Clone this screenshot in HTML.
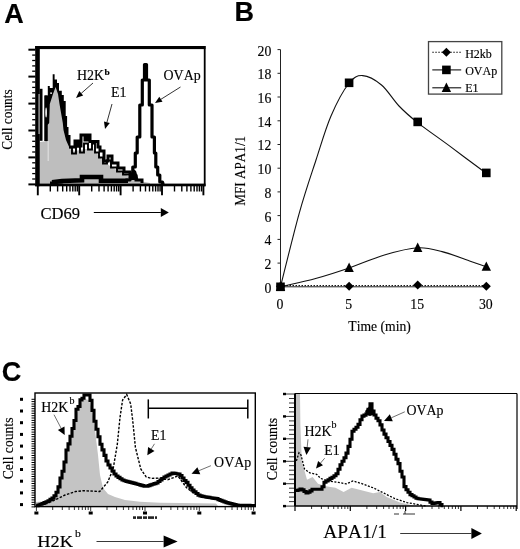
<!DOCTYPE html>
<html><head><meta charset="utf-8"><title>Figure</title>
<style>
html,body{margin:0;padding:0;background:#fff;}
svg{display:block;}
text{fill:#000;font-kerning:none;stroke:#000;stroke-width:0.15px;}
</style></head>
<body>
<svg width="520" height="549" viewBox="0 0 520 549">
<rect x="0" y="0" width="520" height="549" fill="#fff"/>
<text transform="translate(4.2,22.8) scale(1.0,1)" font-family='"Liberation Sans", sans-serif' font-size="27" font-weight="bold" text-anchor="start" >A</text>
<text transform="translate(234.5,21.2) scale(1.0,1)" font-family='"Liberation Sans", sans-serif' font-size="27" font-weight="bold" text-anchor="start" >B</text>
<text transform="translate(1.7,381) scale(1.0,1)" font-family='"Liberation Sans", sans-serif' font-size="27" font-weight="bold" text-anchor="start" >C</text>
<path d="M44.5,141.0 L44.5,95.5 L47.8,95.5 L47.8,86.0 L49.8,86.0 L49.8,88.0 L52.7,88.0 L52.7,74.3 L54.6,74.3 L54.6,79.6 L57.0,79.6 L57.0,83.0 L59.0,83.0 L59.0,90.7 L61.8,90.7 L61.8,95.0 L63.8,95.0 L63.8,101.0 L65.7,101.0 L65.7,116.0 L67.1,116.0 L67.1,127.0 L68.5,127.0 L68.5,135.0 L70.5,135.0 L70.5,149.0 L66.0,149.0 Z" fill="#000" stroke="none" stroke-width="1" />
<path d="M40.0,184.0 L40.0,142.0 L47.5,141.0 L47.5,125.0 L49.2,123.0 L49.8,104.0 L53.0,94.0 L55.6,87.0 L58.0,94.0 L59.5,104.0 L62.8,123.0 L63.5,130.0 L66.0,140.0 L70.0,149.0 L75.0,151.0 L85.0,149.0 L93.0,149.0 L100.0,157.0 L105.0,162.0 L110.0,166.0 L120.0,172.0 L130.0,177.0 L140.0,181.0 L150.0,183.0 L150.0,184.0 Z" fill="#bebebe" stroke="none" stroke-width="1" />
<ellipse cx="46.1" cy="112.5" rx="0.9" ry="5" fill="#fff"/>
<rect x="50.2" y="92.5" width="1.8" height="1.3" fill="#fff"/>
<rect x="47.5" y="141" width="1.5" height="20" fill="#d8d8d8" />
<rect x="39.6" y="88.8" width="2.9" height="52" fill="#000" />
<rect x="44.5" y="95.5" width="3.0" height="45.5" fill="#000" />
<ellipse cx="46.1" cy="112.5" rx="0.8" ry="5" fill="#fff"/>
<path d="M69.0,147.0 L75.0,147.0 L75.0,141.0 L78.0,141.0 L78.0,146.0 L81.0,146.0 L81.0,135.0 L85.0,135.0 L85.0,140.0 L87.0,140.0 L87.0,135.0 L90.0,135.0 L90.0,141.5 L98.0,141.5 L98.0,147.0 L100.0,147.0 L100.0,151.0 L104.0,151.0 L104.0,161.0 L108.0,161.0 L108.0,156.0 L112.0,156.0 L112.0,163.0 L118.0,163.0 L118.0,168.0 L124.0,168.0 L124.0,172.0 L130.0,172.0 L130.0,176.0 L136.0,176.0 L136.0,180.0 L142.0,180.0 L142.0,183.0" fill="none" stroke="#000" stroke-width="3" />
<path d="M72.0,147.5 L72.0,153.5 L76.0,153.5 L76.0,146.5 L80.0,146.5 L80.0,152.5 L84.0,152.5 L84.0,143.5 L88.0,143.5 L88.0,149.5 L92.0,149.5 L92.0,143.5 L95.0,143.5 L95.0,152.5 L99.0,152.5 L99.0,157.5 L103.0,157.5 L103.0,163.5 L107.0,163.5 L107.0,160.5 L111.0,160.5 L111.0,167.5 L117.0,167.5 L117.0,171.5 L123.0,171.5 L123.0,174.5 L129.0,174.5" fill="none" stroke="#000" stroke-width="1.9" />
<path d="M50.0,183.0 L56.0,183.0 L56.0,182.0 L62.0,182.0 L62.0,180.5 L82.0,180.5 L82.0,180.0 L82.0,180.0 L82.0,177.0 L101.0,177.0 L101.0,177.0 L101.0,177.0 L101.0,181.0 L120.0,181.0 L120.0,181.0 L126.0,181.0 L126.0,180.0 L130.0,180.0 L130.0,178.0 L132.8,178.0 L132.8,167.0 L135.3,167.0 L135.3,153.0 L137.2,153.0 L137.2,137.0 L139.8,137.0 L139.8,105.0 L142.3,105.0 L142.3,80.0 L144.5,80.0 L144.5,64.5 L146.5,64.5 L146.5,64.5 L146.5,80.0 L149.3,80.0 L149.3,105.0 L152.0,105.0 L152.0,137.0 L154.4,137.0 L154.4,153.0 L155.8,153.0 L155.8,167.0 L157.7,167.0 L157.7,175.0 L159.8,175.0 L159.8,182.0 L162.5,182.0 L162.5,184.0 L164.5,184.0" fill="none" stroke="#000" stroke-width="3.2" stroke-linejoin="round"/>
<path d="M52.0,182.3 L62.0,181.0 L82.0,180.3 L82.0,177.0 L101.0,177.0 L101.0,180.8 L128.0,180.8" fill="none" stroke="#000" stroke-width="4.6" />
<polygon points="130,180 131,173 133.5,169 136,171 137.5,176 138.5,180" fill="#000"/>
<rect x="35.2" y="46" width="4.6" height="140.2" fill="#000" />
<rect x="38.3" y="94" width="1.6" height="40" fill="#8a8a8a" />
<rect x="35.2" y="46" width="170.3" height="3.1" fill="#000" />
<rect x="203.8" y="46" width="1.8" height="140.2" fill="#000" />
<rect x="35.2" y="183.6" width="170.3" height="2.7" fill="#000" />
<line x1="28.4" y1="49.7" x2="35.5" y2="49.7" stroke="#000" stroke-width="2" />
<line x1="32.2" y1="55.1" x2="35.5" y2="55.1" stroke="#000" stroke-width="1.3" />
<line x1="32.2" y1="60.5" x2="35.5" y2="60.5" stroke="#000" stroke-width="1.3" />
<line x1="32.2" y1="65.9" x2="35.5" y2="65.9" stroke="#000" stroke-width="1.3" />
<line x1="32.2" y1="71.2" x2="35.5" y2="71.2" stroke="#000" stroke-width="1.3" />
<line x1="28.4" y1="76.6" x2="35.5" y2="76.6" stroke="#000" stroke-width="2" />
<line x1="32.2" y1="82.0" x2="35.5" y2="82.0" stroke="#000" stroke-width="1.3" />
<line x1="32.2" y1="87.4" x2="35.5" y2="87.4" stroke="#000" stroke-width="1.3" />
<line x1="32.2" y1="92.8" x2="35.5" y2="92.8" stroke="#000" stroke-width="1.3" />
<line x1="32.2" y1="98.2" x2="35.5" y2="98.2" stroke="#000" stroke-width="1.3" />
<line x1="28.4" y1="103.6" x2="35.5" y2="103.6" stroke="#000" stroke-width="2" />
<line x1="32.2" y1="108.9" x2="35.5" y2="108.9" stroke="#000" stroke-width="1.3" />
<line x1="32.2" y1="114.3" x2="35.5" y2="114.3" stroke="#000" stroke-width="1.3" />
<line x1="32.2" y1="119.7" x2="35.5" y2="119.7" stroke="#000" stroke-width="1.3" />
<line x1="32.2" y1="125.1" x2="35.5" y2="125.1" stroke="#000" stroke-width="1.3" />
<line x1="28.4" y1="130.5" x2="35.5" y2="130.5" stroke="#000" stroke-width="2" />
<line x1="32.2" y1="135.9" x2="35.5" y2="135.9" stroke="#000" stroke-width="1.3" />
<line x1="32.2" y1="141.3" x2="35.5" y2="141.3" stroke="#000" stroke-width="1.3" />
<line x1="32.2" y1="146.6" x2="35.5" y2="146.6" stroke="#000" stroke-width="1.3" />
<line x1="32.2" y1="152.0" x2="35.5" y2="152.0" stroke="#000" stroke-width="1.3" />
<line x1="28.4" y1="157.4" x2="35.5" y2="157.4" stroke="#000" stroke-width="2" />
<line x1="32.2" y1="162.8" x2="35.5" y2="162.8" stroke="#000" stroke-width="1.3" />
<line x1="32.2" y1="168.2" x2="35.5" y2="168.2" stroke="#000" stroke-width="1.3" />
<line x1="32.2" y1="173.6" x2="35.5" y2="173.6" stroke="#000" stroke-width="1.3" />
<line x1="32.2" y1="179.0" x2="35.5" y2="179.0" stroke="#000" stroke-width="1.3" />
<line x1="28.4" y1="184.4" x2="35.5" y2="184.4" stroke="#000" stroke-width="2" />
<line x1="37.8" y1="186" x2="37.8" y2="195.3" stroke="#000" stroke-width="1.9" />
<line x1="50.3" y1="186" x2="50.3" y2="191.5" stroke="#000" stroke-width="1.4" />
<line x1="57.6" y1="186" x2="57.6" y2="191.5" stroke="#000" stroke-width="1.4" />
<line x1="62.7" y1="186" x2="62.7" y2="191.5" stroke="#000" stroke-width="1.4" />
<line x1="66.7" y1="186" x2="66.7" y2="191.5" stroke="#000" stroke-width="1.4" />
<line x1="70.0" y1="186" x2="70.0" y2="191.5" stroke="#000" stroke-width="1.4" />
<line x1="72.8" y1="186" x2="72.8" y2="191.5" stroke="#000" stroke-width="1.4" />
<line x1="75.2" y1="186" x2="75.2" y2="191.5" stroke="#000" stroke-width="1.4" />
<line x1="77.3" y1="186" x2="77.3" y2="191.5" stroke="#000" stroke-width="1.4" />
<line x1="79.19999999999999" y1="186" x2="79.19999999999999" y2="195.3" stroke="#000" stroke-width="1.9" />
<line x1="91.7" y1="186" x2="91.7" y2="191.5" stroke="#000" stroke-width="1.4" />
<line x1="99.0" y1="186" x2="99.0" y2="191.5" stroke="#000" stroke-width="1.4" />
<line x1="104.1" y1="186" x2="104.1" y2="191.5" stroke="#000" stroke-width="1.4" />
<line x1="108.1" y1="186" x2="108.1" y2="191.5" stroke="#000" stroke-width="1.4" />
<line x1="111.4" y1="186" x2="111.4" y2="191.5" stroke="#000" stroke-width="1.4" />
<line x1="114.2" y1="186" x2="114.2" y2="191.5" stroke="#000" stroke-width="1.4" />
<line x1="116.6" y1="186" x2="116.6" y2="191.5" stroke="#000" stroke-width="1.4" />
<line x1="118.7" y1="186" x2="118.7" y2="191.5" stroke="#000" stroke-width="1.4" />
<line x1="120.6" y1="186" x2="120.6" y2="195.3" stroke="#000" stroke-width="1.9" />
<line x1="133.1" y1="186" x2="133.1" y2="191.5" stroke="#000" stroke-width="1.4" />
<line x1="140.4" y1="186" x2="140.4" y2="191.5" stroke="#000" stroke-width="1.4" />
<line x1="145.5" y1="186" x2="145.5" y2="191.5" stroke="#000" stroke-width="1.4" />
<line x1="149.5" y1="186" x2="149.5" y2="191.5" stroke="#000" stroke-width="1.4" />
<line x1="152.8" y1="186" x2="152.8" y2="191.5" stroke="#000" stroke-width="1.4" />
<line x1="155.6" y1="186" x2="155.6" y2="191.5" stroke="#000" stroke-width="1.4" />
<line x1="158.0" y1="186" x2="158.0" y2="191.5" stroke="#000" stroke-width="1.4" />
<line x1="160.1" y1="186" x2="160.1" y2="191.5" stroke="#000" stroke-width="1.4" />
<line x1="162.0" y1="186" x2="162.0" y2="195.3" stroke="#000" stroke-width="1.9" />
<line x1="174.5" y1="186" x2="174.5" y2="191.5" stroke="#000" stroke-width="1.4" />
<line x1="181.8" y1="186" x2="181.8" y2="191.5" stroke="#000" stroke-width="1.4" />
<line x1="186.9" y1="186" x2="186.9" y2="191.5" stroke="#000" stroke-width="1.4" />
<line x1="190.9" y1="186" x2="190.9" y2="191.5" stroke="#000" stroke-width="1.4" />
<line x1="194.2" y1="186" x2="194.2" y2="191.5" stroke="#000" stroke-width="1.4" />
<line x1="197.0" y1="186" x2="197.0" y2="191.5" stroke="#000" stroke-width="1.4" />
<line x1="199.4" y1="186" x2="199.4" y2="191.5" stroke="#000" stroke-width="1.4" />
<line x1="201.5" y1="186" x2="201.5" y2="191.5" stroke="#000" stroke-width="1.4" />
<line x1="203.39999999999998" y1="186" x2="203.39999999999998" y2="195.3" stroke="#000" stroke-width="1.9" />
<text transform="translate(12.2,149.7) rotate(-90) scale(0.89,1)" font-family='"Liberation Serif", serif' font-size="15">Cell counts</text>
<text transform="translate(77,79.7) scale(0.93,1)" font-family='"Liberation Serif", serif' font-size="15" font-weight="normal" text-anchor="start" >H2K</text>
<text transform="translate(104.5,75.2) scale(1.05,1)" font-family='"Liberation Serif", serif' font-size="9" font-weight="bold" text-anchor="start" >b</text>
<text transform="translate(111,97.4) scale(0.93,1)" font-family='"Liberation Serif", serif' font-size="15" font-weight="normal" text-anchor="start" >E1</text>
<text transform="translate(163.5,79.5) scale(0.93,1)" font-family='"Liberation Serif", serif' font-size="15" font-weight="normal" text-anchor="start" >OVAp</text>
<line x1="93" y1="83" x2="81.2" y2="93.4" stroke="#000" stroke-width="0.8" />
<polygon points="76.0,98.0 79.3,91.1 83.2,95.6" fill="#000"/>
<line x1="112" y1="104" x2="106.9" y2="122.3" stroke="#000" stroke-width="0.8" />
<polygon points="105.0,129.0 104.0,121.5 109.8,123.1" fill="#000"/>
<line x1="180.5" y1="87" x2="160.9" y2="99.3" stroke="#000" stroke-width="0.8" />
<polygon points="155.0,103.0 159.3,96.7 162.5,101.8" fill="#000"/>
<text transform="translate(40.5,218.8) scale(1.05,1)" font-family='"Liberation Serif", serif' font-size="15.8" font-weight="normal" text-anchor="start" >CD69</text>
<line x1="93.8" y1="212.5" x2="160.8" y2="212.5" stroke="#000" stroke-width="1" />
<polygon points="168.8,212.5 160.8,217.0 160.8,208.0" fill="#000"/>
<line x1="280.5" y1="49.6" x2="280.5" y2="286.8" stroke="#222" stroke-width="1" />
<line x1="280.5" y1="286.8" x2="486.5" y2="286.8" stroke="#222" stroke-width="1" />
<line x1="277.5" y1="286.8" x2="280.5" y2="286.8" stroke="#222" stroke-width="1" />
<text transform="translate(271.4,292.7) scale(0.92,1)" font-family='"Liberation Serif", serif' font-size="15" font-weight="normal" text-anchor="end" >0</text>
<line x1="277.5" y1="263.1" x2="280.5" y2="263.1" stroke="#222" stroke-width="1" />
<text transform="translate(271.4,269.0) scale(0.92,1)" font-family='"Liberation Serif", serif' font-size="15" font-weight="normal" text-anchor="end" >2</text>
<line x1="277.5" y1="239.4" x2="280.5" y2="239.4" stroke="#222" stroke-width="1" />
<text transform="translate(271.4,245.3) scale(0.92,1)" font-family='"Liberation Serif", serif' font-size="15" font-weight="normal" text-anchor="end" >4</text>
<line x1="277.5" y1="215.6" x2="280.5" y2="215.6" stroke="#222" stroke-width="1" />
<text transform="translate(271.4,221.5) scale(0.92,1)" font-family='"Liberation Serif", serif' font-size="15" font-weight="normal" text-anchor="end" >6</text>
<line x1="277.5" y1="191.9" x2="280.5" y2="191.9" stroke="#222" stroke-width="1" />
<text transform="translate(271.4,197.8) scale(0.92,1)" font-family='"Liberation Serif", serif' font-size="15" font-weight="normal" text-anchor="end" >8</text>
<line x1="277.5" y1="168.2" x2="280.5" y2="168.2" stroke="#222" stroke-width="1" />
<text transform="translate(271.4,174.1) scale(0.92,1)" font-family='"Liberation Serif", serif' font-size="15" font-weight="normal" text-anchor="end" >10</text>
<line x1="277.5" y1="144.5" x2="280.5" y2="144.5" stroke="#222" stroke-width="1" />
<text transform="translate(271.4,150.4) scale(0.92,1)" font-family='"Liberation Serif", serif' font-size="15" font-weight="normal" text-anchor="end" >12</text>
<line x1="277.5" y1="120.8" x2="280.5" y2="120.8" stroke="#222" stroke-width="1" />
<text transform="translate(271.4,126.7) scale(0.92,1)" font-family='"Liberation Serif", serif' font-size="15" font-weight="normal" text-anchor="end" >14</text>
<line x1="277.5" y1="97.0" x2="280.5" y2="97.0" stroke="#222" stroke-width="1" />
<text transform="translate(271.4,102.9) scale(0.92,1)" font-family='"Liberation Serif", serif' font-size="15" font-weight="normal" text-anchor="end" >16</text>
<line x1="277.5" y1="73.3" x2="280.5" y2="73.3" stroke="#222" stroke-width="1" />
<text transform="translate(271.4,79.2) scale(0.92,1)" font-family='"Liberation Serif", serif' font-size="15" font-weight="normal" text-anchor="end" >18</text>
<line x1="277.5" y1="49.6" x2="280.5" y2="49.6" stroke="#222" stroke-width="1" />
<text transform="translate(271.4,55.5) scale(0.92,1)" font-family='"Liberation Serif", serif' font-size="15" font-weight="normal" text-anchor="end" >20</text>
<text transform="translate(280.0,309.2) scale(0.92,1)" font-family='"Liberation Serif", serif' font-size="15" font-weight="normal" text-anchor="middle" >0</text>
<text transform="translate(348.6,309.2) scale(0.92,1)" font-family='"Liberation Serif", serif' font-size="15" font-weight="normal" text-anchor="middle" >5</text>
<text transform="translate(417.2,309.2) scale(0.92,1)" font-family='"Liberation Serif", serif' font-size="15" font-weight="normal" text-anchor="middle" >15</text>
<text transform="translate(485.8,309.2) scale(0.92,1)" font-family='"Liberation Serif", serif' font-size="15" font-weight="normal" text-anchor="middle" >30</text>
<path d="M280.5,285.6 L486.5,285.6" fill="none" stroke="#000" stroke-width="1" stroke-dasharray="1.5,1.5"/>
<path d="M280.5,286.8 C283.6,274.6 293.3,234.4 299.2,213.3 C305.1,192.2 310.7,176.2 316.0,160.0 C321.3,143.8 325.5,128.8 331.0,116.0 C336.5,103.2 343.5,90.2 348.8,83.5 C354.1,76.8 357.2,75.3 362.7,75.6 C368.1,75.8 375.4,79.9 381.5,85.0 C387.6,90.1 393.0,99.7 399.0,106.0 C405.0,112.3 409.0,115.8 417.6,122.6 C426.2,129.4 439.4,138.4 450.8,146.9 C462.2,155.4 480.3,168.9 486.2,173.3" fill="none" stroke="#111" stroke-width="1.1" />
<path d="M280.5,286.8 C286.5,285.4 305.1,281.4 316.5,278.2 C327.9,275.0 337.8,271.8 349.1,267.9 C360.4,264.0 373.0,258.4 384.4,255.0 C395.8,251.7 408.0,248.4 417.6,247.8 C427.2,247.2 433.2,249.3 442.1,251.6 C451.0,253.9 463.6,258.9 471.0,261.4 C478.4,263.9 483.7,265.8 486.2,266.7" fill="none" stroke="#111" stroke-width="1.1" />
<polygon points="280.5,281.8 285.0,286.3 280.5,290.8 276.0,286.3" fill="#000"/>
<polygon points="349.1,281.8 353.6,286.3 349.1,290.8 344.6,286.3" fill="#000"/>
<polygon points="417.7,280.6 422.2,285.1 417.7,289.6 413.2,285.1" fill="#000"/>
<polygon points="486.3,281.8 490.8,286.3 486.3,290.8 481.8,286.3" fill="#000"/>
<polygon points="280.5,281.6 285.2,291.0 275.8,291.0" fill="#000"/>
<polygon points="349.1,262.6 353.8,272.0 344.4,272.0" fill="#000"/>
<polygon points="417.7,242.5 422.4,251.9 413.0,251.9" fill="#000"/>
<polygon points="486.3,261.4 491.0,270.8 481.6,270.8" fill="#000"/>
<rect x="276.2" y="282.5" width="8.6" height="8.6" fill="#000" />
<rect x="344.8" y="78.5" width="8.6" height="8.6" fill="#000" />
<rect x="413.4" y="117.6" width="8.6" height="8.6" fill="#000" />
<rect x="482.0" y="168.6" width="8.6" height="8.6" fill="#000" />
<text transform="translate(245,205.8) rotate(-90) scale(0.91,1)" font-family='"Liberation Serif", serif' font-size="14.5">MFI APA1/1</text>
<text transform="translate(379.6,330.7) scale(0.975,1)" font-family='"Liberation Serif", serif' font-size="14" font-weight="normal" text-anchor="middle" >Time (min)</text>
<rect x="428.5" y="41.6" width="73.3" height="52.5" fill="#fff" stroke="#444" stroke-width="1.3"/>
<line x1="432.3" y1="52.3" x2="461.2" y2="52.3" stroke="#111" stroke-width="1.1" stroke-dasharray="1.5,1.5"/>
<polygon points="446.4,47.8 450.9,52.3 446.4,56.8 441.9,52.3" fill="#000"/>
<text transform="translate(465.2,58) scale(1.0,1)" font-family='"Liberation Serif", serif' font-size="12" font-weight="normal" text-anchor="start" >H2kb</text>
<line x1="432.3" y1="69.9" x2="461.2" y2="69.9" stroke="#111" stroke-width="1.1" />
<rect x="442.1" y="65.6" width="8.6" height="8.6" fill="#000" />
<text transform="translate(465.2,75.4) scale(1.0,1)" font-family='"Liberation Serif", serif' font-size="12" font-weight="normal" text-anchor="start" >OVAp</text>
<line x1="432.3" y1="87.8" x2="461.2" y2="87.8" stroke="#111" stroke-width="1.1" />
<polygon points="446.4,82.6 451.1,92.0 441.7,92.0" fill="#000"/>
<text transform="translate(465.2,92.1) scale(1.0,1)" font-family='"Liberation Serif", serif' font-size="12" font-weight="normal" text-anchor="start" >E1</text>
<path d="M36.0,506.0 L36.0,502.0 L48.5,501.0 L54.0,497.5 L58.0,490.4 L61.5,478.0 L64.7,463.5 L67.4,450.0 L72.4,431.0 L77.8,410.0 L81.9,401.0 L85.0,399.0 L89.0,400.0 L92.0,410.0 L95.0,430.0 L98.0,455.0 L100.0,475.0 L103.0,488.0 L108.0,494.0 L115.0,497.0 L125.0,500.0 L140.0,501.8 L160.0,502.8 L200.0,503.2 L216.0,503.5 L218.0,506.0 Z" fill="#c4c4c4" stroke="none" stroke-width="1" />
<path d="M45.0,504.0 L55.0,500.0 L65.0,495.0 L75.5,491.5 L83.6,490.7 L99.7,491.5 L107.8,482.0 L113.2,468.6 L117.3,444.3 L120.0,417.4 L122.6,400.0 L126.7,394.5 L130.7,404.0 L132.7,420.4 L135.4,447.4 L140.8,469.0 L146.2,477.0 L151.6,478.4 L160.0,478.0 L167.7,479.7 L178.0,476.0 L186.6,487.8 L195.0,494.0" fill="none" stroke="#000" stroke-width="1.4" stroke-dasharray="2.5,1.5"/>
<path d="M36.0,505.7 L38.0,505.7 L38.0,505.0 L40.0,505.0 L40.0,504.3 L42.0,504.3 L42.0,503.5 L44.0,503.5 L44.0,502.6 L46.0,502.6 L46.0,501.7 L48.0,501.7 L48.0,500.7 L50.0,500.7 L50.0,499.4 L52.0,499.4 L52.0,498.1 L54.0,498.1 L54.0,495.7 L56.0,495.7 L56.0,492.2 L58.0,492.2 L58.0,486.9 L60.0,486.9 L60.0,478.0 L62.0,478.0 L62.0,471.2 L64.0,471.2 L64.0,462.0 L66.0,462.0 L66.0,450.0 L68.0,450.0 L68.0,443.9 L70.0,443.9 L70.0,436.2 L72.0,436.2 L72.0,428.5 L74.0,428.5 L74.0,420.5 L76.0,420.5 L76.0,409.3 L78.0,409.3 L78.0,406.5 L80.0,406.5 L80.0,399.9 L82.0,399.9 L82.0,398.2 L84.0,398.2 L84.0,395.0 L86.0,395.0 L86.0,395.0 L88.0,395.0 L88.0,395.0 L90.0,395.0 L90.0,400.4 L92.0,400.4 L92.0,410.4 L94.0,410.4 L94.0,421.2 L96.0,421.2 L96.0,429.2 L98.0,429.2 L98.0,436.8 L100.0,436.8 L100.0,444.3 L102.0,444.3 L102.0,449.9 L104.0,449.9 L104.0,455.4 L106.0,455.4 L106.0,461.0 L108.0,461.0 L108.0,465.0 L110.0,465.0 L110.0,468.0 L112.0,468.0 L112.0,471.0 L114.0,471.0 L114.0,474.0 L116.0,474.0 L116.0,476.0 L118.0,476.0 L118.0,477.4 L120.0,477.4 L120.0,478.7 L122.0,478.7 L122.0,480.0 L124.0,480.0 L124.0,480.7 L126.0,480.7 L126.0,481.4 L128.0,481.4 L128.0,481.9 L130.0,481.9 L130.0,482.4 L132.0,482.4 L132.0,482.9 L134.0,482.9 L134.0,483.4 L136.0,483.4 L136.0,484.0 L138.0,484.0 L138.0,484.5 L140.0,484.5 L140.0,485.1 L142.0,485.1 L142.0,485.6 L144.0,485.6 L144.0,486.2 L146.0,486.2 L146.0,486.2 L148.0,486.2 L148.0,485.6 L150.0,485.6 L150.0,484.9 L152.0,484.9 L152.0,484.3 L154.0,484.3 L154.0,483.6 L156.0,483.6 L156.0,483.0 L158.0,483.0 L158.0,481.5 L160.0,481.5 L160.0,480.0 L162.0,480.0 L162.0,478.5 L164.0,478.5 L164.0,477.0 L166.0,477.0 L166.0,476.0 L168.0,476.0 L168.0,475.0 L170.0,475.0 L170.0,474.0 L172.0,474.0 L172.0,473.0 L174.0,473.0 L174.0,473.4 L176.0,473.4 L176.0,473.7 L178.0,473.7 L178.0,474.1 L180.0,474.1 L180.0,475.6 L182.0,475.6 L182.0,478.0 L184.0,478.0 L184.0,480.5 L186.0,480.5 L186.0,482.4 L188.0,482.4 L188.0,485.3 L190.0,485.3 L190.0,487.7 L192.0,487.7 L192.0,490.1 L194.0,490.1 L194.0,491.9 L196.0,491.9 L196.0,493.5 L198.0,493.5 L198.0,495.1 L200.0,495.1 L200.0,495.9 L202.0,495.9 L202.0,496.4 L204.0,496.4 L204.0,496.7 L206.0,496.7 L206.0,497.1 L208.0,497.1 L208.0,497.4 L210.0,497.4 L210.0,497.7 L212.0,497.7 L212.0,498.1 L214.0,498.1 L214.0,498.4 L216.0,498.4 L216.0,498.6 L218.0,498.6 L218.0,499.6 L220.0,499.6 L220.0,500.4 L222.0,500.4 L222.0,501.1 L224.0,501.1 L224.0,501.9 L226.0,501.9 L226.0,502.6 L228.0,502.6 L228.0,503.1 L230.0,503.1 L230.0,503.6 L232.0,503.6 L232.0,504.1 L234.0,504.1 L234.0,504.6 L236.0,504.6 L236.0,505.1 L238.0,505.1 L238.0,505.3 L240.0,505.3 L240.0,505.3 L242.0,505.3 L242.0,505.4 L244.0,505.4 L244.0,505.4 L246.0,505.4 L246.0,505.4 L248.0,505.4 L248.0,505.4 L250.0,505.4 L250.0,505.5 L252.0,505.5 L252.0,505.5 L254.0,505.5 L254.0,505.5 L255.0,505.5" fill="none" stroke="#000" stroke-width="3.1" />
<rect x="35" y="393" width="220.3" height="113.60000000000002" fill="none" stroke="#000" stroke-width="1.4"/>
<rect x="20" y="397.8" width="3" height="3" fill="#000" />
<line x1="31.5" y1="399.3" x2="35" y2="399.3" stroke="#000" stroke-width="1.0" />
<line x1="31.5" y1="401.6" x2="35" y2="401.6" stroke="#000" stroke-width="1.0" />
<line x1="31.5" y1="404.0" x2="35" y2="404.0" stroke="#000" stroke-width="1.0" />
<line x1="31.5" y1="406.3" x2="35" y2="406.3" stroke="#000" stroke-width="1.0" />
<line x1="31.5" y1="408.7" x2="35" y2="408.7" stroke="#000" stroke-width="1.0" />
<rect x="20" y="409.5" width="3" height="3" fill="#000" />
<line x1="31.5" y1="411.0" x2="35" y2="411.0" stroke="#000" stroke-width="1.0" />
<line x1="31.5" y1="413.3" x2="35" y2="413.3" stroke="#000" stroke-width="1.0" />
<line x1="31.5" y1="415.7" x2="35" y2="415.7" stroke="#000" stroke-width="1.0" />
<line x1="31.5" y1="418.0" x2="35" y2="418.0" stroke="#000" stroke-width="1.0" />
<line x1="31.5" y1="420.4" x2="35" y2="420.4" stroke="#000" stroke-width="1.0" />
<rect x="20" y="421.2" width="3" height="3" fill="#000" />
<line x1="31.5" y1="422.7" x2="35" y2="422.7" stroke="#000" stroke-width="1.0" />
<line x1="31.5" y1="425.0" x2="35" y2="425.0" stroke="#000" stroke-width="1.0" />
<line x1="31.5" y1="427.4" x2="35" y2="427.4" stroke="#000" stroke-width="1.0" />
<line x1="31.5" y1="429.7" x2="35" y2="429.7" stroke="#000" stroke-width="1.0" />
<line x1="31.5" y1="432.1" x2="35" y2="432.1" stroke="#000" stroke-width="1.0" />
<rect x="20" y="432.9" width="3" height="3" fill="#000" />
<line x1="31.5" y1="434.4" x2="35" y2="434.4" stroke="#000" stroke-width="1.0" />
<line x1="31.5" y1="436.7" x2="35" y2="436.7" stroke="#000" stroke-width="1.0" />
<line x1="31.5" y1="439.1" x2="35" y2="439.1" stroke="#000" stroke-width="1.0" />
<line x1="31.5" y1="441.4" x2="35" y2="441.4" stroke="#000" stroke-width="1.0" />
<line x1="31.5" y1="443.8" x2="35" y2="443.8" stroke="#000" stroke-width="1.0" />
<rect x="20" y="444.6" width="3" height="3" fill="#000" />
<line x1="31.5" y1="446.1" x2="35" y2="446.1" stroke="#000" stroke-width="1.0" />
<line x1="31.5" y1="448.4" x2="35" y2="448.4" stroke="#000" stroke-width="1.0" />
<line x1="31.5" y1="450.8" x2="35" y2="450.8" stroke="#000" stroke-width="1.0" />
<line x1="31.5" y1="453.1" x2="35" y2="453.1" stroke="#000" stroke-width="1.0" />
<line x1="31.5" y1="455.5" x2="35" y2="455.5" stroke="#000" stroke-width="1.0" />
<rect x="20" y="456.3" width="3" height="3" fill="#000" />
<line x1="31.5" y1="457.8" x2="35" y2="457.8" stroke="#000" stroke-width="1.0" />
<line x1="31.5" y1="460.1" x2="35" y2="460.1" stroke="#000" stroke-width="1.0" />
<line x1="31.5" y1="462.5" x2="35" y2="462.5" stroke="#000" stroke-width="1.0" />
<line x1="31.5" y1="464.8" x2="35" y2="464.8" stroke="#000" stroke-width="1.0" />
<line x1="31.5" y1="467.2" x2="35" y2="467.2" stroke="#000" stroke-width="1.0" />
<rect x="20" y="468.0" width="3" height="3" fill="#000" />
<line x1="31.5" y1="469.5" x2="35" y2="469.5" stroke="#000" stroke-width="1.0" />
<line x1="31.5" y1="471.8" x2="35" y2="471.8" stroke="#000" stroke-width="1.0" />
<line x1="31.5" y1="474.2" x2="35" y2="474.2" stroke="#000" stroke-width="1.0" />
<line x1="31.5" y1="476.5" x2="35" y2="476.5" stroke="#000" stroke-width="1.0" />
<line x1="31.5" y1="478.9" x2="35" y2="478.9" stroke="#000" stroke-width="1.0" />
<rect x="20" y="479.7" width="3" height="3" fill="#000" />
<line x1="31.5" y1="481.2" x2="35" y2="481.2" stroke="#000" stroke-width="1.0" />
<line x1="31.5" y1="483.5" x2="35" y2="483.5" stroke="#000" stroke-width="1.0" />
<line x1="31.5" y1="485.9" x2="35" y2="485.9" stroke="#000" stroke-width="1.0" />
<line x1="31.5" y1="488.2" x2="35" y2="488.2" stroke="#000" stroke-width="1.0" />
<line x1="31.5" y1="490.6" x2="35" y2="490.6" stroke="#000" stroke-width="1.0" />
<rect x="20" y="491.4" width="3" height="3" fill="#000" />
<line x1="31.5" y1="492.9" x2="35" y2="492.9" stroke="#000" stroke-width="1.0" />
<line x1="31.5" y1="495.2" x2="35" y2="495.2" stroke="#000" stroke-width="1.0" />
<line x1="31.5" y1="497.6" x2="35" y2="497.6" stroke="#000" stroke-width="1.0" />
<line x1="31.5" y1="499.9" x2="35" y2="499.9" stroke="#000" stroke-width="1.0" />
<line x1="31.5" y1="502.3" x2="35" y2="502.3" stroke="#000" stroke-width="1.0" />
<rect x="20" y="503.1" width="3" height="3" fill="#000" />
<line x1="31.5" y1="504.6" x2="35" y2="504.6" stroke="#000" stroke-width="1.0" />
<line x1="31.5" y1="506.9" x2="35" y2="506.9" stroke="#000" stroke-width="1.0" />
<rect x="34.4" y="511.5" width="4" height="3" fill="#000" />
<line x1="36.4" y1="507" x2="36.4" y2="511" stroke="#000" stroke-width="0.8" />
<line x1="52.7" y1="507" x2="52.7" y2="510" stroke="#000" stroke-width="0.8" />
<line x1="62.3" y1="507" x2="62.3" y2="510" stroke="#000" stroke-width="0.8" />
<line x1="69.1" y1="507" x2="69.1" y2="510" stroke="#000" stroke-width="0.8" />
<line x1="74.4" y1="507" x2="74.4" y2="510" stroke="#000" stroke-width="0.8" />
<line x1="78.7" y1="507" x2="78.7" y2="510" stroke="#000" stroke-width="0.8" />
<line x1="82.3" y1="507" x2="82.3" y2="510" stroke="#000" stroke-width="0.8" />
<line x1="85.4" y1="507" x2="85.4" y2="510" stroke="#000" stroke-width="0.8" />
<line x1="88.2" y1="507" x2="88.2" y2="510" stroke="#000" stroke-width="0.8" />
<rect x="88.7" y="511.5" width="4" height="3" fill="#000" />
<line x1="90.7" y1="507" x2="90.7" y2="511" stroke="#000" stroke-width="0.8" />
<line x1="107.0" y1="507" x2="107.0" y2="510" stroke="#000" stroke-width="0.8" />
<line x1="116.6" y1="507" x2="116.6" y2="510" stroke="#000" stroke-width="0.8" />
<line x1="123.4" y1="507" x2="123.4" y2="510" stroke="#000" stroke-width="0.8" />
<line x1="128.7" y1="507" x2="128.7" y2="510" stroke="#000" stroke-width="0.8" />
<line x1="133.0" y1="507" x2="133.0" y2="510" stroke="#000" stroke-width="0.8" />
<line x1="136.6" y1="507" x2="136.6" y2="510" stroke="#000" stroke-width="0.8" />
<line x1="139.7" y1="507" x2="139.7" y2="510" stroke="#000" stroke-width="0.8" />
<line x1="142.5" y1="507" x2="142.5" y2="510" stroke="#000" stroke-width="0.8" />
<rect x="143.0" y="511.5" width="4" height="3" fill="#000" />
<line x1="145.0" y1="507" x2="145.0" y2="511" stroke="#000" stroke-width="0.8" />
<line x1="161.3" y1="507" x2="161.3" y2="510" stroke="#000" stroke-width="0.8" />
<line x1="170.9" y1="507" x2="170.9" y2="510" stroke="#000" stroke-width="0.8" />
<line x1="177.7" y1="507" x2="177.7" y2="510" stroke="#000" stroke-width="0.8" />
<line x1="183.0" y1="507" x2="183.0" y2="510" stroke="#000" stroke-width="0.8" />
<line x1="187.3" y1="507" x2="187.3" y2="510" stroke="#000" stroke-width="0.8" />
<line x1="190.9" y1="507" x2="190.9" y2="510" stroke="#000" stroke-width="0.8" />
<line x1="194.0" y1="507" x2="194.0" y2="510" stroke="#000" stroke-width="0.8" />
<line x1="196.8" y1="507" x2="196.8" y2="510" stroke="#000" stroke-width="0.8" />
<rect x="197.3" y="511.5" width="4" height="3" fill="#000" />
<line x1="199.3" y1="507" x2="199.3" y2="511" stroke="#000" stroke-width="0.8" />
<line x1="215.6" y1="507" x2="215.6" y2="510" stroke="#000" stroke-width="0.8" />
<line x1="225.2" y1="507" x2="225.2" y2="510" stroke="#000" stroke-width="0.8" />
<line x1="232.0" y1="507" x2="232.0" y2="510" stroke="#000" stroke-width="0.8" />
<line x1="237.3" y1="507" x2="237.3" y2="510" stroke="#000" stroke-width="0.8" />
<line x1="241.6" y1="507" x2="241.6" y2="510" stroke="#000" stroke-width="0.8" />
<line x1="245.2" y1="507" x2="245.2" y2="510" stroke="#000" stroke-width="0.8" />
<line x1="248.3" y1="507" x2="248.3" y2="510" stroke="#000" stroke-width="0.8" />
<line x1="251.1" y1="507" x2="251.1" y2="510" stroke="#000" stroke-width="0.8" />
<rect x="251.6" y="511.5" width="4" height="3" fill="#000" />
<line x1="253.6" y1="507" x2="253.6" y2="511" stroke="#000" stroke-width="0.8" />
<rect x="133" y="516.3" width="3" height="2.6" fill="#222" />
<rect x="137" y="516.3" width="5" height="2.6" fill="#222" />
<rect x="143" y="516.3" width="4" height="2.6" fill="#222" />
<rect x="148" y="516.3" width="6" height="2.6" fill="#222" />
<rect x="155" y="516.3" width="2" height="2.6" fill="#222" />
<line x1="148.3" y1="408.3" x2="247.8" y2="408.3" stroke="#000" stroke-width="1.5" />
<line x1="148.3" y1="399.4" x2="148.3" y2="418.5" stroke="#000" stroke-width="1.5" />
<line x1="247.8" y1="399.4" x2="247.8" y2="418.5" stroke="#000" stroke-width="1.5" />
<text transform="translate(12.8,479.3) rotate(-90) scale(0.91,1)" font-family='"Liberation Serif", serif' font-size="15">Cell counts</text>
<text transform="translate(41.2,411.5) scale(0.94,1)" font-family='"Liberation Serif", serif' font-size="14.8" font-weight="normal" text-anchor="start" >H2K</text>
<text transform="translate(69.5,403.5) scale(1.05,1)" font-family='"Liberation Serif", serif' font-size="9.5" font-weight="normal" text-anchor="start" >b</text>
<line x1="54" y1="414.7" x2="61.2" y2="428.4" stroke="#333" stroke-width="0.7" />
<polygon points="64.7,435.0 57.9,430.1 64.5,426.6" fill="#000"/>
<text transform="translate(151,440) scale(0.95,1)" font-family='"Liberation Serif", serif' font-size="14.5" font-weight="normal" text-anchor="start" >E1</text>
<line x1="154.5" y1="443.8" x2="151.3" y2="448.9" stroke="#333" stroke-width="0.7" />
<polygon points="147.3,455.2 148.1,446.9 154.5,450.9" fill="#000"/>
<text transform="translate(214.1,467.2) scale(0.94,1)" font-family='"Liberation Serif", serif' font-size="14.8" font-weight="normal" text-anchor="start" >OVAp</text>
<line x1="210.9" y1="465.7" x2="198.9" y2="470.7" stroke="#333" stroke-width="0.7" />
<polygon points="191.5,473.8 197.4,467.3 200.3,474.2" fill="#000"/>
<text transform="translate(37.2,547) scale(1.05,1)" font-family='"Liberation Serif", serif' font-size="17.5" font-weight="normal" text-anchor="start" >H2K</text>
<text transform="translate(75,536.8) scale(1.05,1)" font-family='"Liberation Serif", serif' font-size="11" font-weight="normal" text-anchor="start" >b</text>
<line x1="96.5" y1="541.5" x2="163.6" y2="541.5" stroke="#222" stroke-width="0.9" />
<polygon points="177.6,541.5 163.6,547.5 163.6,535.5" fill="#000"/>
<path d="M296.0,506.0 L296.0,394.0 L300.0,394.0 L300.4,425.8 L301.8,460.9 L307.0,479.7 L312.6,477.0 L318.0,483.8 L327.4,486.5 L335.5,487.8 L343.6,491.9 L351.6,487.8 L362.4,490.5 L373.2,493.2 L380.0,492.0 L386.7,497.0 L400.0,502.6 L415.0,506.0 Z" fill="#c4c4c4" stroke="none" stroke-width="1" />
<path d="M296.4,460.9 L299.0,452.8 L301.0,455.0 L304.5,469.0 L309.9,473.0 L316.6,474.3 L320.6,478.4 L327.4,481.0 L338.2,482.4 L346.3,483.8 L353.0,481.0 L362.4,483.8 L373.2,487.8 L384.0,493.2 L394.8,498.6 L407.0,502.6 L425.8,506.0" fill="none" stroke="#000" stroke-width="1.3" stroke-dasharray="2,1.5"/>
<polygon points="365,411 368,408 370.5,404 372.5,408 374,411 373,415 370,416 367,415" fill="#000"/>
<path d="M296.0,490.5 L298.0,490.5 L298.0,490.0 L300.0,490.0 L300.0,489.0 L302.0,489.0 L302.0,489.9 L304.0,489.9 L304.0,491.5 L306.0,491.5 L306.0,493.0 L308.0,493.0 L308.0,492.1 L310.0,492.1 L310.0,490.9 L312.0,490.9 L312.0,489.2 L314.0,489.2 L314.0,489.2 L316.0,489.2 L316.0,489.2 L318.0,489.2 L318.0,489.2 L320.0,489.2 L320.0,489.2 L322.0,489.2 L322.0,486.7 L324.0,486.7 L324.0,482.2 L326.0,482.2 L326.0,481.0 L328.0,481.0 L328.0,479.8 L330.0,479.8 L330.0,478.4 L332.0,478.4 L332.0,477.2 L334.0,477.2 L334.0,475.7 L336.0,475.7 L336.0,473.8 L338.0,473.8 L338.0,469.3 L340.0,469.3 L340.0,464.7 L342.0,464.7 L342.0,461.2 L344.0,461.2 L344.0,457.8 L346.0,457.8 L346.0,453.1 L348.0,453.1 L348.0,446.4 L350.0,446.4 L350.0,439.2 L352.0,439.2 L352.0,431.2 L354.0,431.2 L354.0,429.2 L356.0,429.2 L356.0,427.2 L358.0,427.2 L358.0,424.4 L360.0,424.4 L360.0,419.7 L362.0,419.7 L362.0,416.1 L364.0,416.1 L364.0,415.1 L366.0,415.1 L366.0,413.7 L368.0,413.7 L368.0,409.3 L370.0,409.3 L370.0,403.7 L372.0,403.7 L372.0,411.1 L374.0,411.1 L374.0,415.0 L376.0,415.0 L376.0,418.3 L378.0,418.3 L378.0,420.8 L380.0,420.8 L380.0,424.9 L382.0,424.9 L382.0,430.0 L384.0,430.0 L384.0,434.1 L386.0,434.1 L386.0,437.7 L388.0,437.7 L388.0,441.5 L390.0,441.5 L390.0,445.4 L392.0,445.4 L392.0,449.4 L394.0,449.4 L394.0,454.3 L396.0,454.3 L396.0,459.3 L398.0,459.3 L398.0,463.6 L400.0,463.6 L400.0,471.3 L402.0,471.3 L402.0,477.0 L404.0,477.0 L404.0,486.6 L406.0,486.6 L406.0,489.8 L408.0,489.8 L408.0,492.2 L410.0,492.2 L410.0,494.6 L412.0,494.6 L412.0,495.8 L414.0,495.8 L414.0,497.0 L416.0,497.0 L416.0,498.2 L418.0,498.2 L418.0,498.8 L420.0,498.8 L420.0,499.0 L422.0,499.0 L422.0,499.3 L424.0,499.3 L424.0,499.5 L426.0,499.5 L426.0,499.8 L428.0,499.8 L428.0,500.0 L430.0,500.0 L430.0,502.1 L432.0,502.1 L432.0,503.4 L434.0,503.4 L434.0,503.1 L436.0,503.1 L436.0,502.8 L438.0,502.8 L438.0,502.6 L440.0,502.6 L440.0,504.5 L442.0,504.5 L442.0,505.6 L443.3,505.6" fill="none" stroke="#000" stroke-width="3.1" />
<line x1="295" y1="393.5" x2="517" y2="393.5" stroke="#000" stroke-width="1.2" />
<line x1="295" y1="393.5" x2="295" y2="506.1" stroke="#000" stroke-width="2" />
<line x1="517" y1="393.5" x2="517" y2="509.1" stroke="#000" stroke-width="1.2" />
<line x1="295" y1="506.1" x2="517" y2="506.1" stroke="#000" stroke-width="1.5" />
<rect x="283" y="392.8" width="3" height="2.4" fill="#000" />
<line x1="286" y1="394.0" x2="295" y2="394.0" stroke="#000" stroke-width="0.8" />
<line x1="289" y1="398.5" x2="295" y2="398.5" stroke="#000" stroke-width="0.8" />
<line x1="289" y1="403.0" x2="295" y2="403.0" stroke="#000" stroke-width="0.8" />
<line x1="289" y1="407.5" x2="295" y2="407.5" stroke="#000" stroke-width="0.8" />
<line x1="289" y1="411.9" x2="295" y2="411.9" stroke="#000" stroke-width="0.8" />
<rect x="283" y="415.2" width="3" height="2.4" fill="#000" />
<line x1="286" y1="416.4" x2="295" y2="416.4" stroke="#000" stroke-width="0.8" />
<line x1="289" y1="420.9" x2="295" y2="420.9" stroke="#000" stroke-width="0.8" />
<line x1="289" y1="425.4" x2="295" y2="425.4" stroke="#000" stroke-width="0.8" />
<line x1="289" y1="429.9" x2="295" y2="429.9" stroke="#000" stroke-width="0.8" />
<line x1="289" y1="434.4" x2="295" y2="434.4" stroke="#000" stroke-width="0.8" />
<rect x="283" y="437.6" width="3" height="2.4" fill="#000" />
<line x1="286" y1="438.8" x2="295" y2="438.8" stroke="#000" stroke-width="0.8" />
<line x1="289" y1="443.3" x2="295" y2="443.3" stroke="#000" stroke-width="0.8" />
<line x1="289" y1="447.8" x2="295" y2="447.8" stroke="#000" stroke-width="0.8" />
<line x1="289" y1="452.3" x2="295" y2="452.3" stroke="#000" stroke-width="0.8" />
<line x1="289" y1="456.8" x2="295" y2="456.8" stroke="#000" stroke-width="0.8" />
<rect x="283" y="460.1" width="3" height="2.4" fill="#000" />
<line x1="286" y1="461.3" x2="295" y2="461.3" stroke="#000" stroke-width="0.8" />
<line x1="289" y1="465.7" x2="295" y2="465.7" stroke="#000" stroke-width="0.8" />
<line x1="289" y1="470.2" x2="295" y2="470.2" stroke="#000" stroke-width="0.8" />
<line x1="289" y1="474.7" x2="295" y2="474.7" stroke="#000" stroke-width="0.8" />
<line x1="289" y1="479.2" x2="295" y2="479.2" stroke="#000" stroke-width="0.8" />
<rect x="283" y="482.5" width="3" height="2.4" fill="#000" />
<line x1="286" y1="483.7" x2="295" y2="483.7" stroke="#000" stroke-width="0.8" />
<line x1="289" y1="488.2" x2="295" y2="488.2" stroke="#000" stroke-width="0.8" />
<line x1="289" y1="492.6" x2="295" y2="492.6" stroke="#000" stroke-width="0.8" />
<line x1="289" y1="497.1" x2="295" y2="497.1" stroke="#000" stroke-width="0.8" />
<line x1="289" y1="501.6" x2="295" y2="501.6" stroke="#000" stroke-width="0.8" />
<rect x="283" y="504.9" width="3" height="2.4" fill="#000" />
<line x1="286" y1="506.1" x2="295" y2="506.1" stroke="#000" stroke-width="0.8" />
<line x1="295.0" y1="506" x2="295.0" y2="511" stroke="#000" stroke-width="1.2" />
<line x1="311.6" y1="506" x2="311.6" y2="509" stroke="#000" stroke-width="0.8" />
<line x1="321.4" y1="506" x2="321.4" y2="509" stroke="#000" stroke-width="0.8" />
<line x1="328.3" y1="506" x2="328.3" y2="509" stroke="#000" stroke-width="0.8" />
<line x1="333.7" y1="506" x2="333.7" y2="509" stroke="#000" stroke-width="0.8" />
<line x1="338.0" y1="506" x2="338.0" y2="509" stroke="#000" stroke-width="0.8" />
<line x1="341.7" y1="506" x2="341.7" y2="509" stroke="#000" stroke-width="0.8" />
<line x1="344.9" y1="506" x2="344.9" y2="509" stroke="#000" stroke-width="0.8" />
<line x1="347.8" y1="506" x2="347.8" y2="509" stroke="#000" stroke-width="0.8" />
<line x1="350.3" y1="506" x2="350.3" y2="511" stroke="#000" stroke-width="1.2" />
<line x1="366.9" y1="506" x2="366.9" y2="509" stroke="#000" stroke-width="0.8" />
<line x1="376.7" y1="506" x2="376.7" y2="509" stroke="#000" stroke-width="0.8" />
<line x1="383.6" y1="506" x2="383.6" y2="509" stroke="#000" stroke-width="0.8" />
<line x1="389.0" y1="506" x2="389.0" y2="509" stroke="#000" stroke-width="0.8" />
<line x1="393.3" y1="506" x2="393.3" y2="509" stroke="#000" stroke-width="0.8" />
<line x1="397.0" y1="506" x2="397.0" y2="509" stroke="#000" stroke-width="0.8" />
<line x1="400.2" y1="506" x2="400.2" y2="509" stroke="#000" stroke-width="0.8" />
<line x1="403.1" y1="506" x2="403.1" y2="509" stroke="#000" stroke-width="0.8" />
<line x1="405.6" y1="506" x2="405.6" y2="511" stroke="#000" stroke-width="1.2" />
<line x1="422.2" y1="506" x2="422.2" y2="509" stroke="#000" stroke-width="0.8" />
<line x1="432.0" y1="506" x2="432.0" y2="509" stroke="#000" stroke-width="0.8" />
<line x1="438.9" y1="506" x2="438.9" y2="509" stroke="#000" stroke-width="0.8" />
<line x1="444.3" y1="506" x2="444.3" y2="509" stroke="#000" stroke-width="0.8" />
<line x1="448.6" y1="506" x2="448.6" y2="509" stroke="#000" stroke-width="0.8" />
<line x1="452.3" y1="506" x2="452.3" y2="509" stroke="#000" stroke-width="0.8" />
<line x1="455.5" y1="506" x2="455.5" y2="509" stroke="#000" stroke-width="0.8" />
<line x1="458.4" y1="506" x2="458.4" y2="509" stroke="#000" stroke-width="0.8" />
<line x1="460.9" y1="506" x2="460.9" y2="511" stroke="#000" stroke-width="1.2" />
<line x1="477.5" y1="506" x2="477.5" y2="509" stroke="#000" stroke-width="0.8" />
<line x1="487.3" y1="506" x2="487.3" y2="509" stroke="#000" stroke-width="0.8" />
<line x1="494.2" y1="506" x2="494.2" y2="509" stroke="#000" stroke-width="0.8" />
<line x1="499.6" y1="506" x2="499.6" y2="509" stroke="#000" stroke-width="0.8" />
<line x1="503.9" y1="506" x2="503.9" y2="509" stroke="#000" stroke-width="0.8" />
<line x1="507.6" y1="506" x2="507.6" y2="509" stroke="#000" stroke-width="0.8" />
<line x1="510.8" y1="506" x2="510.8" y2="509" stroke="#000" stroke-width="0.8" />
<line x1="513.7" y1="506" x2="513.7" y2="509" stroke="#000" stroke-width="0.8" />
<line x1="516.2" y1="506" x2="516.2" y2="511" stroke="#000" stroke-width="1.2" />
<line x1="394" y1="514" x2="399" y2="514" stroke="#000" stroke-width="0.8" />
<line x1="403" y1="514" x2="415" y2="514" stroke="#000" stroke-width="0.8" />
<line x1="405" y1="511" x2="405" y2="514" stroke="#000" stroke-width="0.8" />
<text transform="translate(277.3,480.3) rotate(-90) scale(0.92,1)" font-family='"Liberation Serif", serif' font-size="15">Cell counts</text>
<text transform="translate(304.5,436) scale(0.96,1)" font-family='"Liberation Serif", serif' font-size="14.5" font-weight="normal" text-anchor="start" >H2K</text>
<text transform="translate(331.6,427.5) scale(1.05,1)" font-family='"Liberation Serif", serif' font-size="9.5" font-weight="normal" text-anchor="start" >b</text>
<line x1="308" y1="439.3" x2="307.2" y2="447.0" stroke="#333" stroke-width="0.7" />
<polygon points="306.4,455.0 303.5,446.7 310.9,447.4" fill="#000"/>
<text transform="translate(324.3,455.3) scale(0.95,1)" font-family='"Liberation Serif", serif' font-size="14.5" font-weight="normal" text-anchor="start" >E1</text>
<line x1="324.7" y1="458.2" x2="320.5" y2="463.1" stroke="#333" stroke-width="0.7" />
<polygon points="316.0,468.4 318.1,461.0 323.0,465.2" fill="#000"/>
<text transform="translate(406.4,414.5) scale(0.94,1)" font-family='"Liberation Serif", serif' font-size="14.8" font-weight="normal" text-anchor="start" >OVAp</text>
<line x1="404.8" y1="411.8" x2="391.3" y2="417.8" stroke="#333" stroke-width="0.7" />
<polygon points="384.0,421.0 389.8,414.3 392.8,421.2" fill="#000"/>
<text transform="translate(323.3,538) scale(1.05,1)" font-family='"Liberation Serif", serif' font-size="18.5" font-weight="normal" text-anchor="start" >APA1/1</text>
<line x1="400.2" y1="533.5" x2="471.4" y2="533.5" stroke="#222" stroke-width="0.9" />
<polygon points="481.9,533.5 471.4,539.0 471.4,528.0" fill="#000"/>
</svg>
</body></html>
